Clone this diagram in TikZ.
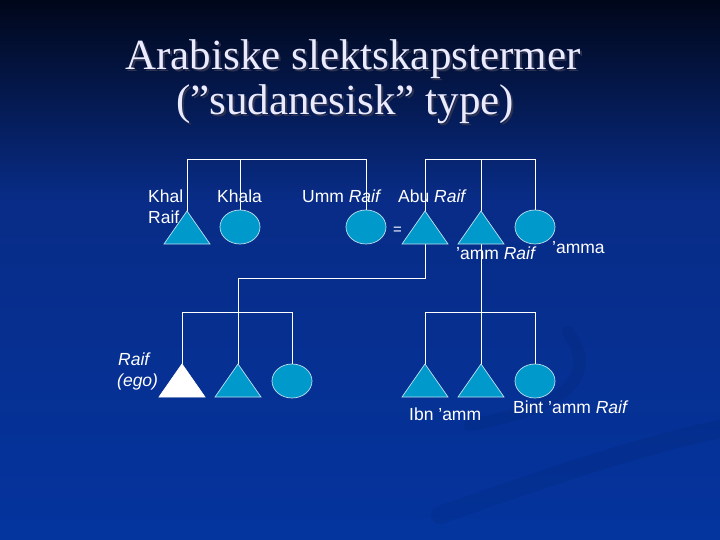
\documentclass[tikz,border=0pt]{standalone}
\usepackage{fontspec}
\setmainfont{Liberation Sans}
\newfontfamily\titlefont{Liberation Serif}
\usetikzlibrary{shapes.geometric}
\definecolor{bgtop}{RGB}{1,7,26}
\definecolor{bgmid}{RGB}{8,44,135}
\definecolor{bgbot}{RGB}{4,52,158}
\definecolor{shapefill}{RGB}{0,153,204}
\definecolor{shapeline}{RGB}{190,225,240}
\definecolor{shadowc}{RGB}{45,50,80}
\newcommand\shadowedtext[1]{\makebox[0pt][l]{\hspace{2pt}\raisebox{-2pt}{\textcolor{shadowc}{#1}}}#1}
\tikzset{
  ln/.style={draw=white, line width=0.9pt},
  tri/.style={fill=shapefill, draw=shapeline, line width=0.7pt, line join=miter},
  egotri/.style={fill=white, draw=white, line width=0.7pt},
  fem/.style={ellipse, fill=shapefill, draw=shapeline, line width=0.7pt, minimum width=40pt, minimum height=34pt, inner sep=0pt},
  lbl/.style={text=white, anchor=base west, inner sep=0pt, font=\fontsize{17.5}{21}\selectfont},
  ttl/.style={text=white!92!blue, anchor=base, inner sep=0pt, font=\titlefont\fontsize{43}{50}\selectfont},
  swirl/.style={draw=black, opacity=0.05, line cap=round}
}
\begin{document}
\begin{tikzpicture}[x=1pt,y=-1pt]
\useasboundingbox (0,0) rectangle (720,540);
% background
\fill[top color=bgtop, bottom color=bgmid] (0,0) rectangle (720,200);
\fill[top color=bgmid, bottom color=bgbot] (0,200) rectangle (720,540);
\draw[swirl, line width=18pt] (725,428) .. controls (640,445) and (540,480) .. (440,515);
\draw[swirl, line width=12pt] (568,332) .. controls (595,370) and (580,405) .. (470,425);
% title
\node[ttl] (t1) at (353,70) {\shadowedtext{Arabiske slektskapstermer}};
\node[ttl] (t2) at (345,115) {\shadowedtext{(”sudanesisk” type)}};
% persons: triangles (apex coordinates) and circles
\coordinate (khal) at (187,211);
\node[fem] (khala) at (240,227) {};
\node[fem] (umm) at (366,227) {};
\coordinate (abu) at (425,211);
\coordinate (amm) at (481,211);
\node[fem] (amma) at (535,227) {};
\coordinate (ego) at (182,364);
\coordinate (bro) at (238,364);
\node[fem] (sis) at (292,381) {};
\coordinate (ibn1) at (425,364);
\coordinate (ibn2) at (481,364);
\node[fem] (bint) at (535,381) {};
% connectors
\coordinate (topL) at (0,159);
\draw[ln] (khal) -- (khal |- topL) -- (umm.north |- topL) -- (umm.north);
\draw[ln] (khala.north) -- (khala.north |- topL);
\draw[ln] (abu) -- (abu |- topL) -- (amma.north |- topL) -- (amma.north);
\draw[ln] (amm) -- (amm |- topL);
\coordinate (mid) at (0,278);
\coordinate (sib) at (0,312);
\draw[ln] (abu) ++(0,33) -- (abu |- mid) -- (bro |- mid) -- (bro);
\draw[ln] (ego) -- (ego |- sib) -- (sis.north |- sib) -- (sis.north);
\draw[ln] (amm) ++(0,33) -- (ibn2);
\draw[ln] (ibn1) -- (ibn1 |- sib) -- (bint.north |- sib) -- (bint.north);
% triangles
\foreach \p in {khal,abu,amm,bro,ibn1,ibn2}{
  \draw[tri] (\p) -- ++(23,33) -- ++(-46,0) -- cycle;
}
\draw[egotri] (ego) -- ++(23,33) -- ++(-46,0) -- cycle;
% labels
\node[lbl] (lkhal) at (148,203) {Khal};
\node[lbl] (lkhal2) at (148,223) {Raif};
\node[lbl] (lkhala) at (217,203) {Khala};
\node[lbl] (lumm) at (302,203) {Umm \textit{Raif}};
\node[lbl] (labu) at (398,203) {Abu \textit{Raif}};
\node[lbl, font=\fontsize{15}{17}\selectfont] (leq) at (393,235) {=};
\node[lbl] (lamm) at (456,259) {’amm \textit{Raif}};
\node[lbl] (lamma) at (552,253) {’amma};
\node[lbl] (lego) at (118,365) {\textit{Raif}};
\node[lbl] (lego2) at (117,386) {\textit{(ego)}};
\node[lbl] (libn) at (409,420) {Ibn ’amm};
\node[lbl] (lbint) at (513,413) {Bint ’amm \textit{Raif}};
\end{tikzpicture}
\end{document}
